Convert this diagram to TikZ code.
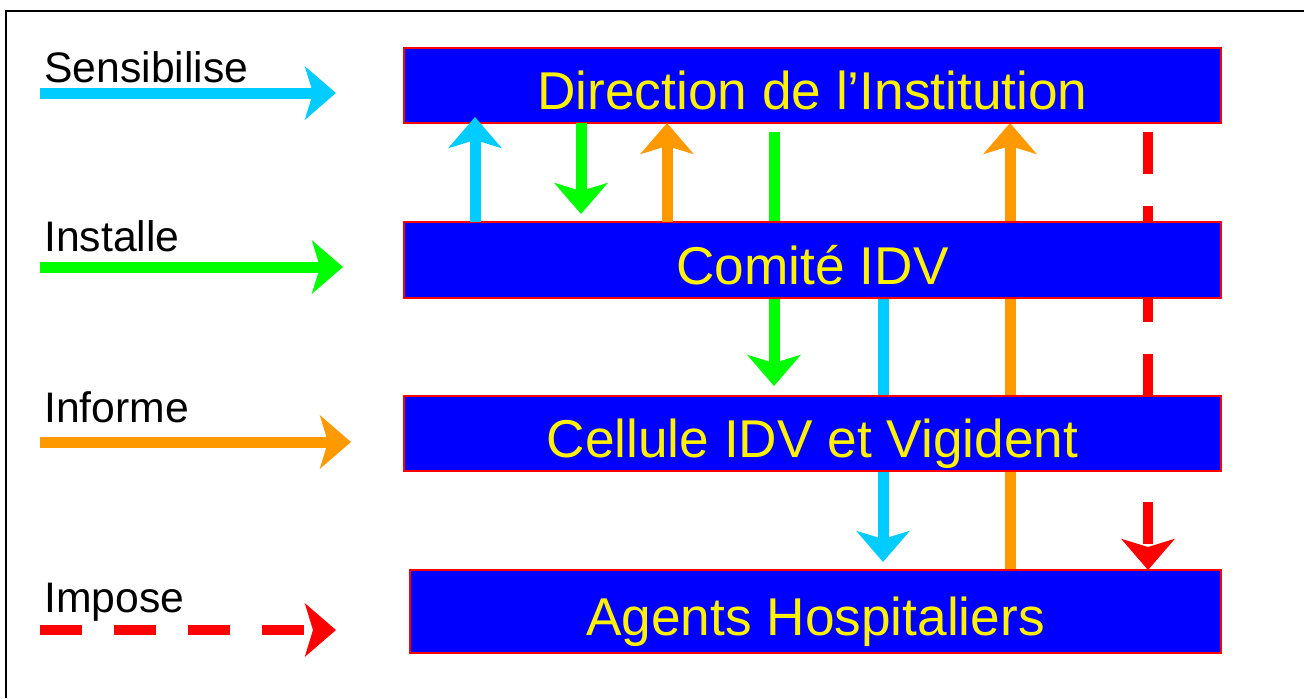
\documentclass[tikz,border=0pt]{standalone}
\usepackage{fontspec}
\setmainfont{Liberation Sans}
\usetikzlibrary{arrows.meta}
\pgfdeclarelayer{back}
\pgfsetlayers{back,main}
\definecolor{sky}{RGB}{0,204,255}
\definecolor{lime}{RGB}{0,255,0}
\definecolor{amber}{RGB}{255,153,0}
\begin{document}
\begin{tikzpicture}[x=0.02cm,y=-0.02cm,
                       box node/.style={rectangle,fill=blue,draw=red,line width=0.05cm,outer sep=0pt,inner sep=0pt,
                         minimum width=16.34cm,minimum height=1.5cm,text=yellow,font=\fontsize{30.3}{36}\selectfont,
                         text height=1.0cm,text depth=0.03cm},
                       legend node/.style={anchor=base west,inner sep=0pt,font=\fontsize{24.3}{29}\selectfont},
                       flow/.style={line width=0.22cm,-{Stealth[length=0.62cm,width=1.06cm,inset=0.16cm]}},
                       sens/.style={flow,draw=sky},
                       inst/.style={flow,draw=lime},
                       info/.style={flow,draw=amber},
                       impo/.style={flow,draw=red,line width=0.2cm,dash pattern=on 0.84cm off 0.64cm}
                      ]
  \useasboundingbox (0,0) rectangle (1304,698);
  \draw[line width=0.04cm] (1304,11) -- (6,11) -- (6,698);

  % levels
  \node[box node] (dir) at (812.5,85.5) {Direction de l’Institution};
  \node[box node,minimum height=1.52cm] (com) at (812.5,260) {Comité IDV};
  \node[box node] (cel) at (812.5,433.5) {Cellule IDV et Vigident};
  \node[box node,minimum width=16.22cm,minimum height=1.66cm] (agt) at (815.5,611.5) {Agents Hospitaliers};

  % legend
  \node[legend node] (lsens) at (44,82) {Sensibilise};
  \node[legend node] (linst) at (44,251) {Installe};
  \node[legend node] (linfo) at (44,422) {Informe};
  \node[legend node] (limpo) at (44,612) {Impose};
  \coordinate (sens a) at (40,93);  \coordinate (sens b) at (336,93);
  \coordinate (inst a) at (40,267); \coordinate (inst b) at (343,267);
  \coordinate (info a) at (40,442); \coordinate (info b) at (351,442);
  \coordinate (impo a) at (40,630); \coordinate (impo b) at (336,630);
  \draw[sens] (sens a) -- (sens b);
  \draw[inst] (inst a) -- (inst b);
  \draw[info] (info a) -- (info b);
  \draw[impo] (impo a) -- (impo b);

  % columns of the links
  \coordinate (k1) at (475,0);
  \coordinate (k2) at (581,0);
  \coordinate (k3) at (667,0);
  \coordinate (k4) at (774,0);
  \coordinate (k5) at (883,0);
  \coordinate (k6) at (1010,0);
  \coordinate (k7) at (1148,0);

  \draw[sens,shorten >=-0.12cm] (k1 |- com.north) -- (k1 |- dir.south);
  \draw[inst,shorten >=0.16cm] (k2 |- dir.south) -- (k2 |- com.north);
  \draw[info] (k3 |- com.north) -- (k3 |- dir.south);

  \begin{pgfonlayer}{back}
  \draw[inst,shorten <=0.18cm,shorten >=0.2cm] (k4 |- dir.south) -- (k4 |- cel.north);
  \draw[sens,shorten >=0.16cm] (k5 |- com.south) -- (k5 |- agt.north);
  \draw[info] (k6 |- agt.north) -- (k6 |- dir.south);
  \draw[impo,shorten <=0.18cm] (k7 |- dir.south) -- (k7 |- agt.north);
  \end{pgfonlayer}
 \end{tikzpicture}
\end{document}
